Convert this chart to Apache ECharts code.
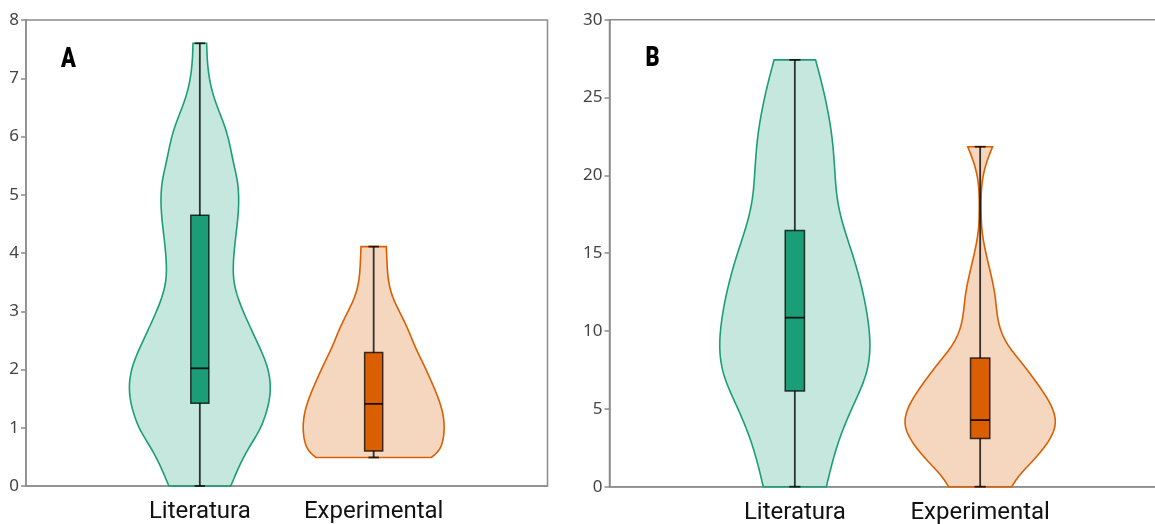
<!DOCTYPE html>
<html>
<head>
<meta charset="utf-8">
<script src="https://cdn.jsdelivr.net/npm/echarts@6/dist/echarts.min.js"></script>
<style>
html,body{margin:0;padding:0;background:#fff;}
#chart{width:1155px;height:524px;}
</style>
</head>
<body>
<div id="chart"></div>
<script>
// ---------- data ----------
const categories = ['Literatura', 'Experimental'];
const panelLabels = ['A', 'B'];
const yMaxA = 8, yStepA = 1;
const yMaxB = 30, yStepB = 5;

// box stats: [min(whisker), q1, median, q3, max(whisker)]
const boxA_lit = [0, 1.42, 2.02, 4.65, 7.6];
const boxA_exp = [0.49, 0.6, 1.41, 2.29, 4.11];
const boxB_lit = [0, 6.15, 10.86, 16.46, 27.42];
const boxB_exp = [0, 3.1, 4.28, 8.27, 21.84];

// violin density profiles: [value, relative density]
const densA_lit = [[0,0.44],[0.62,0.68],[0.96,0.845],[1.25,0.94],[1.65,1.0],[2.11,0.94],[2.39,0.845],[2.96,0.63],[3.48,0.49],[3.9,0.48],[4.28,0.51],[4.8,0.55],[5.25,0.53],[5.54,0.48],[6.11,0.37],[6.68,0.2],[7.26,0.11],[7.6,0.097]];
const densA_exp = [[0.49,0.82],[0.59,0.91],[0.73,0.97],[0.96,1.0],[1.25,0.98],[1.53,0.91],[1.82,0.81],[2.11,0.70],[2.39,0.59],[2.68,0.49],[2.96,0.38],[3.25,0.27],[3.54,0.21],[3.82,0.19],[4.11,0.18]];
const densB_lit = [[0,0.42],[2.99,0.59],[5.13,0.77],[7.27,0.95],[8.97,1.0],[10.47,0.98],[12.61,0.90],[14.74,0.78],[16.88,0.64],[18.38,0.57],[20.09,0.535],[22.22,0.50],[24.36,0.43],[26.07,0.35],[27.42,0.276]];
const densB_exp = [[0,0.42],[0.64,0.51],[1.5,0.67],[2.78,0.89],[4.06,1.0],[5.35,0.93],[6.63,0.76],[7.91,0.56],[9.19,0.36],[10.47,0.25],[12.18,0.20],[14.32,0.11],[16.46,0.025],[17.95,0.012],[19.66,0.03],[20.73,0.08],[21.84,0.165]];

// ---------- styling ----------
const lineColors = ['#1b9e77', '#d95f02'];
const fillColors = ['rgba(27,158,119,0.25)', 'rgba(217,95,2,0.25)'];
const axisGray = '#8c8c8c';
const violinHalf = 0.405;   // max half width in x-axis units
const boxHalf = 0.052;
const capHalf = 0.03;

const panels = [
  { box: [boxA_lit, boxA_exp], dens: [densA_lit, densA_exp] },
  { box: [boxB_lit, boxB_exp], dens: [densB_lit, densB_exp] }
];

// natural cubic spline through the read profile points (rendering only)
function naturalSpline(xs, ys) {
  const n = xs.length;
  const h = [];
  for (let i = 0; i < n - 1; i++) h.push(xs[i + 1] - xs[i]);
  const a = new Array(n).fill(0), b = new Array(n).fill(1), c = new Array(n).fill(0), d = new Array(n).fill(0);
  for (let i = 1; i < n - 1; i++) {
    a[i] = h[i - 1]; b[i] = 2 * (h[i - 1] + h[i]); c[i] = h[i];
    d[i] = 6 * ((ys[i + 1] - ys[i]) / h[i] - (ys[i] - ys[i - 1]) / h[i - 1]);
  }
  const cp = new Array(n).fill(0), dp = new Array(n).fill(0);
  cp[0] = c[0] / b[0]; dp[0] = d[0] / b[0];
  for (let i = 1; i < n; i++) {
    const m = b[i] - a[i] * cp[i - 1];
    cp[i] = c[i] / m; dp[i] = (d[i] - a[i] * dp[i - 1]) / m;
  }
  const M = new Array(n).fill(0);
  M[n - 1] = dp[n - 1];
  for (let i = n - 2; i >= 0; i--) M[i] = dp[i] - cp[i] * M[i + 1];
  return function (x) {
    let i = 0;
    while (i < n - 2 && x > xs[i + 1]) i++;
    const hi = h[i], A = xs[i + 1] - x, B = x - xs[i];
    return M[i] * A * A * A / (6 * hi) + M[i + 1] * B * B * B / (6 * hi)
      + (ys[i] / hi - M[i] * hi / 6) * A + (ys[i + 1] / hi - M[i + 1] * hi / 6) * B;
  };
}

function makeRender(panelIdx) {
  return function (params, api) {
    const i = params.dataIndex;
    const xc = api.value(0);
    const st = panels[panelIdx].box[i];
    const dens = panels[panelIdx].dens[i];
    const f = naturalSpline(dens.map(d => d[0]), dens.map(d => d[1]));
    const v0 = dens[0][0], v1 = dens[dens.length - 1][0];
    const N = 160;
    const right = [], left = [];
    for (let k = 0; k <= N; k++) {
      const v = v0 + (v1 - v0) * k / N;
      const w = Math.max(0.004, f(v)) * violinHalf;
      right.push(api.coord([xc + w, v]));
      left.push(api.coord([xc - w, v]));
    }
    const poly = right.concat(left.reverse());
    const c = api.coord([xc, st[2]]);
    const pMin = api.coord([xc, st[0]]);
    const pMax = api.coord([xc, st[4]]);
    const q1 = api.coord([xc - boxHalf, st[1]]);
    const q3 = api.coord([xc + boxHalf, st[3]]);
    const capL = api.coord([xc - capHalf, st[0]])[0];
    const capR = api.coord([xc + capHalf, st[0]])[0];
    const medL = api.coord([xc - boxHalf, st[2]]);
    const medR = api.coord([xc + boxHalf, st[2]]);
    const wStyle = { stroke: 'rgba(0,0,0,0.78)', lineWidth: 1.8 };
    return {
      type: 'group',
      children: [
        { type: 'polygon', shape: { points: poly }, style: { fill: fillColors[i], stroke: lineColors[i], lineWidth: 1.6 } },
        { type: 'line', shape: { x1: c[0], y1: pMin[1], x2: c[0], y2: pMax[1] }, style: wStyle },
        { type: 'line', shape: { x1: capL, y1: pMin[1], x2: capR, y2: pMin[1] }, style: wStyle },
        { type: 'line', shape: { x1: capL, y1: pMax[1], x2: capR, y2: pMax[1] }, style: wStyle },
        { type: 'rect', shape: { x: q1[0], y: q3[1], width: q3[0] - q1[0], height: q1[1] - q3[1] },
          style: { fill: lineColors[i], stroke: 'rgba(0,0,0,0.75)', lineWidth: 1.5 } },
        { type: 'line', shape: { x1: medL[0], y1: medL[1], x2: medR[0], y2: medR[1] }, style: { stroke: 'rgba(0,0,0,0.85)', lineWidth: 1.8 } }
      ]
    };
  };
}

const xAxisBase = (g) => ({
  gridIndex: g, type: 'value', min: 0, max: 3, interval: 1,
  axisLine: { show: true, onZero: false, lineStyle: { color: axisGray, width: 1.5 } },
  axisTick: { show: false },
  splitLine: { show: false },
  axisLabel: {
    formatter: v => categories[v - 1] || '',
    fontSize: 24, color: '#111', fontFamily: 'Roboto', fontWeight: 400, margin: 14
  }
});
const yAxisBase = (g, max, step) => ({
  gridIndex: g, type: 'value', min: 0, max: max, interval: step,
  axisLine: { show: true, onZero: false, lineStyle: { color: axisGray, width: 1.5 } },
  axisTick: { show: true, length: 5, lineStyle: { color: axisGray, width: 1.5 } },
  splitLine: { show: false },
  axisLabel: { fontSize: 17, color: '#444', fontFamily: 'Noto Sans', margin: 7 }
});

const chart = echarts.init(document.getElementById('chart'), null, { renderer: 'canvas' });
chart.setOption({
  animation: false,
  backgroundColor: '#fff',
  grid: [
    { left: 26, top: 20, width: 521.5, height: 466, show: true, borderColor: axisGray, borderWidth: 1.5, backgroundColor: 'transparent', containLabel: false, outerBoundsMode: 'none' },
    { left: 609.5, top: 19.7, width: 556, height: 467, show: true, borderColor: axisGray, borderWidth: 1.5, backgroundColor: 'transparent', containLabel: false, outerBoundsMode: 'none' }
  ],
  xAxis: [xAxisBase(0), xAxisBase(1)],
  yAxis: [yAxisBase(0, yMaxA, yStepA), yAxisBase(1, yMaxB, yStepB)],
  graphic: [
    { type: 'text', x: 61, y: 46, scaleX: 0.78, style: { text: panelLabels[0], font: '900 28px Roboto, sans-serif', fill: '#000' } },
    { type: 'text', x: 645.5, y: 45, scaleX: 0.78, style: { text: panelLabels[1], font: '900 28px Roboto, sans-serif', fill: '#000' } }
  ],
  series: [
    { type: 'custom', xAxisIndex: 0, yAxisIndex: 0, data: [[1], [2]], encode: { x: 0 }, renderItem: makeRender(0), clip: false, silent: true },
    { type: 'custom', xAxisIndex: 1, yAxisIndex: 1, data: [[1], [2]], encode: { x: 0 }, renderItem: makeRender(1), clip: false, silent: true }
  ]
});
</script>
</body>
</html>
